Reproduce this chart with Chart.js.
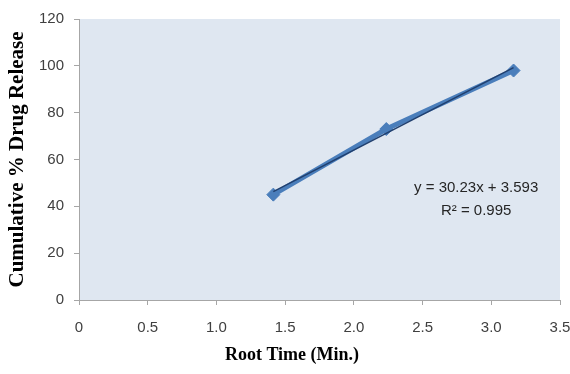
<!DOCTYPE html>
<html>
<head>
<meta charset="utf-8">
<script src="https://cdn.jsdelivr.net/npm/chart.js"></script>
<style>
html,body{margin:0;padding:0;background:#fff}
#wrap{width:570px;height:374px}
</style>
</head>
<body>
<div id="wrap"><canvas id="c" width="570" height="374"></canvas></div>
<script>
// ===== DATA =====
const rootTime=[1.414,2.236,3.162]
const release=[45,73,98]
const trendX=[1.414,3.162]
const trendY=[46.3,99.2]
const eqLines=["y = 30.23x + 3.593","R\u00b2 = 0.995"]
const xTitle="Root Time (Min.)"
const yTitle="Cumulative % Drug Release"

const tickFont={family:"'Liberation Sans',sans-serif",size:15}

// plot area fill, x title, equation text
const extras={
  id:'extras',
  beforeDraw(ch){
    const a=ch.chartArea,g=ch.ctx
    g.save();g.fillStyle='#dfe7f1';g.fillRect(a.left,a.top,a.right-a.left,a.bottom-a.top);g.restore()
  },
  afterDraw(ch){
    const g=ch.ctx,sx=ch.scales.x,sy=ch.scales.y
    g.save()
    g.textAlign='center';g.textBaseline='middle'
    g.font="bold 18px 'Liberation Serif',serif";g.fillStyle='#000'
    g.fillText(xTitle,sx.getPixelForValue(1.55),355)
    g.font="15px 'Liberation Sans',sans-serif";g.fillStyle='#262626'
    const x=sx.getPixelForValue(2.89),y=sy.getPixelForValue(48)
    eqLines.forEach((t,i)=>g.fillText(t,x,y+i*23))
    g.restore()
  }
}

new Chart(document.getElementById('c'),{
  type:'scatter',
  data:{datasets:[
    {data:rootTime.map((v,i)=>({x:v,y:release[i]})),showLine:true,borderColor:'#4a7ebb',backgroundColor:'#4a7ebb',
     borderWidth:5,pointStyle:'rectRot',pointRadius:6.5,pointBorderWidth:1,order:2},
    {data:trendX.map((v,i)=>({x:v,y:trendY[i]})),showLine:true,borderColor:'#203f6e',borderWidth:1.5,pointRadius:0,order:1}
  ]},
  options:{
    responsive:false,animation:false,
    layout:{padding:{top:18,right:10,left:0,bottom:0}},
    plugins:{legend:{display:false},tooltip:{enabled:false}},
    scales:{
      x:{type:'linear',min:0,max:3.5,
        ticks:{stepSize:0.5,font:tickFont,color:'#404040',padding:14,maxRotation:0},
        grid:{drawOnChartArea:false,drawTicks:true,tickLength:5,color:'#a6a6a6'},
        border:{color:'#a6a6a6'},
        afterFit(s){s.height=74;s.paddingLeft=0;s.paddingRight=0}},
      y:{min:0,max:120,
        ticks:{stepSize:20,font:tickFont,color:'#404040',padding:10},
        grid:{drawOnChartArea:false,drawTicks:true,tickLength:5,color:'#a6a6a6'},
        border:{color:'#a6a6a6'},
        title:{display:true,text:yTitle,color:'#000',font:{family:"'Liberation Serif',serif",size:21,weight:'bold'},padding:{top:5,bottom:0}},
        afterFit(s){s.width=79}}
    }
  },
  plugins:[extras]
})
</script>
</body>
</html>
